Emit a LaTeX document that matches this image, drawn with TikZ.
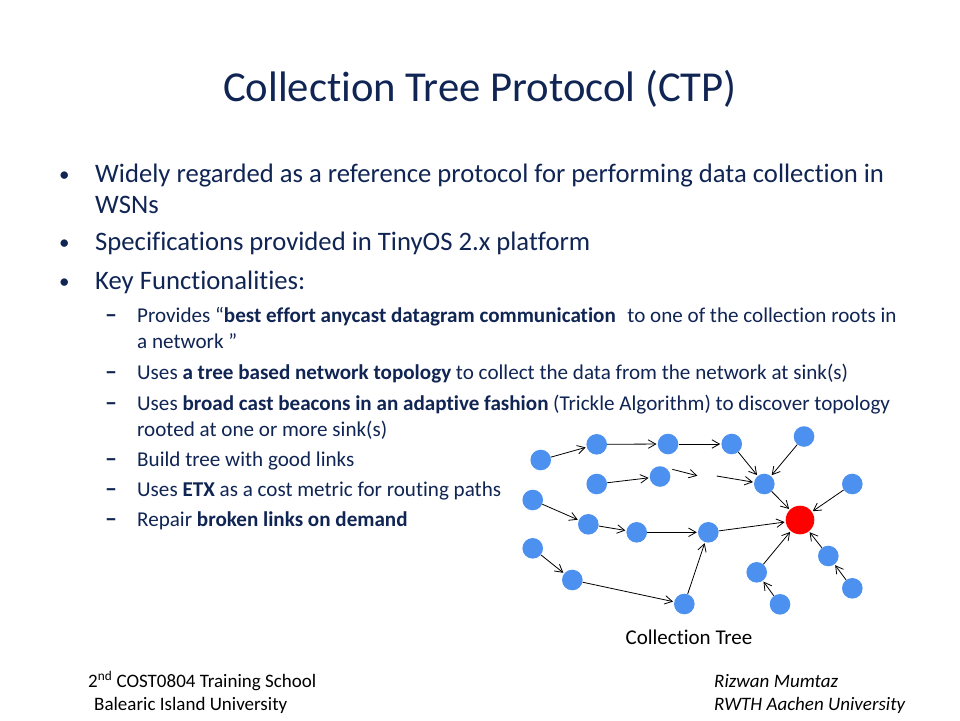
\documentclass[tikz,border=0pt]{standalone}
\usepackage{fontspec}
\setmainfont{Carlito}[Ligatures=NoCommon]
\usetikzlibrary{arrows.meta}
\definecolor{navy}{RGB}{16,37,84}
\definecolor{nodeblue}{RGB}{77,145,240}
\definecolor{sinkred}{RGB}{255,0,0}
\begin{document}
\begin{tikzpicture}[x=1pt,y=-1pt,
  mote/.style={circle,fill=nodeblue,minimum size=20.6pt,inner sep=0pt},
  sink/.style={circle,fill=sinkred,minimum size=28.6pt,inner sep=0pt},
  link/.style={-{Straight Barb[length=7.5pt,width=8.5pt]},line width=0.8pt,black,shorten >=1pt},
  titletext/.style={anchor=base,text=navy,font=\fontsize{42.67}{50}\selectfont,inner sep=0pt},
  lone/.style={anchor=base west,text=navy,font=\fontsize{26.67}{32}\selectfont,inner sep=0pt},
  bul/.style={anchor=base west,text=navy,font=\fontsize{21}{24}\selectfont,inner sep=0pt},
  dashmark/.style={anchor=base west,text=navy,font=\fontsize{24}{24}\selectfont\bfseries,inner sep=0pt},
  ltwo/.style={anchor=base west,text=navy,font=\fontsize{21.1}{24}\selectfont,inner sep=0pt},
  foot/.style={anchor=base west,text=black,font=\fontsize{19}{22}\selectfont,inner sep=0pt},
  caption/.style={anchor=base,text=black,font=\fontsize{21}{24}\selectfont,inner sep=0pt}
]
\useasboundingbox[fill=white] (0,0) rectangle (960,720);

% title
\node[titletext] (title) at (480,101) {Collection Tree Protocol (CTP)};

% level 1 bullets
\node[bul] (b1) at (59,181) {•};
\node[lone] (t1) at (95,182) {Widely regarded as a reference protocol for performing data collection in};
\node[lone] (t1b) at (95,213.5) {WSNs};
\node[bul] (b2) at (59,249.5) {•};
\node[lone] (t2) at (95,250.5) {Specifications provided in TinyOS 2.x platform};
\node[bul] (b3) at (59,288) {•};
\node[lone] (t3) at (95,289) {Key Functionalities:};

% level 2
\node[dashmark] (d1) at (105,322.5) {–};
\node[ltwo] (s1) at (137,322.5) {Provides “\textbf{best effort anycast datagram communication}\hspace{0.55em}to one of the collection roots in};
\node[ltwo] (s1b) at (137,348) {a network ”};
\node[dashmark] (d2) at (105,379) {–};
\node[ltwo] (s2) at (137,379) {Uses \textbf{a tree based network topology} to collect the data from the network at sink(s)};
\node[dashmark] (d3) at (105,410) {–};
\node[ltwo] (s3) at (137,410) {Uses \textbf{broad cast beacons in an adaptive fashion} (Trickle Algorithm) to discover topology};
\node[ltwo] (s3b) at (137,436) {rooted at one or more sink(s)};
\node[dashmark] (d4) at (105,466) {–};
\node[ltwo] (s4) at (137,466) {Build tree with good links};
\node[dashmark] (d5) at (105,496) {–};
\node[ltwo] (s5) at (137,496) {Uses \textbf{ETX} as a cost metric for routing paths};
\node[dashmark] (d6) at (105,526) {–};
\node[ltwo] (s6) at (137,526) {Repair \textbf{broken links on demand}};

% tree
\node[mote] (a1) at (540.7,460) {};
\node[mote] (a2) at (596.7,444.3) {};
\node[mote] (a3) at (668,444) {};
\node[mote] (a4) at (731.7,444) {};
\node[mote] (top) at (804,436.5) {};
\node[mote] (n1) at (596.7,484) {};
\node[mote] (n2) at (660,476.5) {};
\node[mote] (n3) at (764.3,484) {};
\node[mote] (c1) at (852.3,484) {};
\node[mote] (r1) at (532.7,500) {};
\node[mote] (r2) at (588.3,524.3) {};
\node[mote] (r3) at (636.7,532.3) {};
\node[mote] (r4) at (708.3,532.3) {};
\node[sink] (root) at (800,520) {};
\node[mote] (e1) at (532.7,548.3) {};
\node[mote] (e2) at (572.3,580) {};
\node[mote] (e3) at (684.3,604) {};
\node[mote] (f1) at (756.7,572.3) {};
\node[mote] (f2) at (780,604.3) {};
\node[mote] (g1) at (828.3,556) {};
\node[mote] (g2) at (852.3,588.3) {};
\coordinate (m1) at (672.3,469.3);
\coordinate (m2) at (698.3,476);
\coordinate (m3) at (716.7,476);

\draw[link] (a1) -- (a2);
\draw[link] (a2) -- (a3);
\draw[link] (a3) -- (a4);
\draw[link] (a4) -- (n3);
\draw[link] (top) -- (n3);
\draw[link] (n1) -- (n2);
\draw[link] (m1) -- (m2);
\draw[link] (m3) -- (n3);
\draw[link] (n3) -- (root);
\draw[link] (c1) -- (root);
\draw[link] (r1) -- (r2);
\draw[link] (r2) -- (r3);
\draw[link] (r3) -- (r4);
\draw[link] (r4) -- (root);
\draw[link] (e1) -- (e2);
\draw[link] (e2) -- (e3);
\draw[link] (e3) -- (r4);
\draw[link] (f1) -- (root);
\draw[link] (f2) -- (f1);
\draw[link] (g1) -- (root);
\draw[link] (g2) -- (g1);

\node[caption] (cap) at (689,644) {Collection Tree};

% footer
\node[foot] (fa) at (88,687) {2\textsuperscript{nd} COST0804 Training School};
\node[foot] (fb) at (94,710) {Balearic Island University};
\node[foot] (fc) at (714,687) {\itshape Rizwan Mumtaz};
\node[foot] (fd) at (714,710) {\itshape RWTH Aachen University};
\end{tikzpicture}
\end{document}
